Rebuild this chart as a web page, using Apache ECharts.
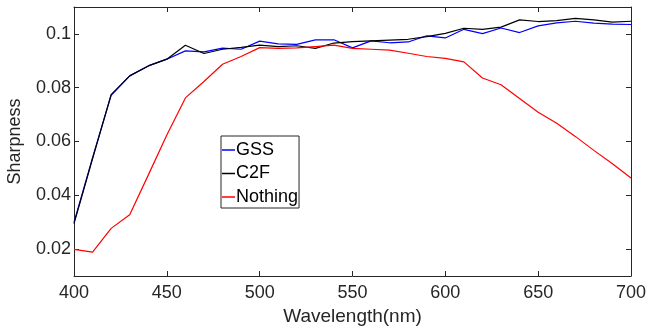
<!DOCTYPE html>
<html><head><meta charset="utf-8">
<script src="https://cdn.jsdelivr.net/npm/echarts@6/dist/echarts.min.js"></script>
<style>html,body{margin:0;padding:0;background:#fff}#c{width:648px;height:331px}</style>
</head><body><div id="c"></div>
<script>
const wavelengths = [400,410,420,430,440,450,460,470,480,490,500,510,520,530,540,550,560,570,580,590,600,610,620,630,640,650,660,670,680,690,700];
const gss = [0.0299,0.0540,0.0772,0.0844,0.0881,0.0906,0.0937,0.0933,0.0947,0.0943,0.0973,0.0963,0.0961,0.0978,0.0978,0.0948,0.0974,0.0967,0.0970,0.0993,0.0985,0.1017,0.1001,0.1022,0.1005,0.1030,0.1041,0.1047,0.1040,0.1036,0.1035];
const c2f = [0.0295,0.0536,0.0774,0.0844,0.0881,0.0906,0.0958,0.0927,0.0943,0.0950,0.0958,0.0953,0.0956,0.0946,0.0966,0.0971,0.0974,0.0977,0.0980,0.0990,0.1002,0.1021,0.1017,0.1025,0.1052,0.1046,0.1049,0.1058,0.1052,0.1044,0.1047];
const nothing = [0.0199,0.0189,0.0277,0.0328,0.0475,0.0624,0.0762,0.0823,0.0887,0.0916,0.0949,0.0946,0.0948,0.0953,0.0958,0.0946,0.0943,0.0940,0.0928,0.0916,0.0909,0.0896,0.0836,0.0811,0.0760,0.0709,0.0668,0.0619,0.0567,0.0517,0.0464];
const yTicks = [0.02,0.04,0.06,0.08,0.1];
const seriesNames = ['GSS','C2F','Nothing'];

const pairs = arr => wavelengths.map((w,i)=>[w,arr[i]]);
const axisColor = '#262626';
const font = 'Liberation Sans, Arial, sans-serif';
const chart = echarts.init(document.getElementById('c'));
const yFmt = v => String(+(+v).toFixed(2));
chart.setOption({
  animation:false,
  backgroundColor:'#fff',
  grid:{left:74,right:17,top:7,bottom:55,outerBoundsMode:'none',containLabel:false},
  legend:{
    orient:'vertical', left:221, top:136,
    data:seriesNames.map(n=>({name:n,icon:'rect'})),
    itemWidth:13, itemHeight:1.5, itemGap:5.5,
    padding:[5,1,2,1],
    borderColor:'#262626', borderWidth:1, backgroundColor:'#fff',
    textStyle:{fontFamily:font,fontSize:18,color:'#000',padding:[0,0,0,-4]}
  },
  xAxis:[
    {type:'value',min:400,max:700,interval:50,position:'bottom',
     name:'Wavelength(nm)',nameLocation:'middle',nameGap:28,
     nameTextStyle:{fontFamily:font,fontSize:19,color:axisColor},
     axisLine:{lineStyle:{color:axisColor,width:1}},
     axisTick:{inside:true,length:5,lineStyle:{color:axisColor}},
     axisLabel:{fontFamily:font,fontSize:18,color:axisColor,margin:8},
     splitLine:{show:false}},
    {type:'value',min:400,max:700,interval:50,position:'top',
     axisLine:{show:true,lineStyle:{color:axisColor,width:1}},
     axisTick:{inside:true,length:5,lineStyle:{color:axisColor}},
     axisLabel:{show:false},splitLine:{show:false}}
  ],
  yAxis:[
    {type:'value',min:0.01,max:0.11,position:'left',
     name:'Sharpness',nameLocation:'middle',nameGap:50,nameRotate:90,
     nameTextStyle:{fontFamily:font,fontSize:18,color:axisColor},
     axisLine:{show:true,lineStyle:{color:axisColor,width:1}},
     axisTick:{show:true,inside:true,length:5,customValues:yTicks,lineStyle:{color:axisColor}},
     axisLabel:{fontFamily:font,fontSize:18,color:axisColor,margin:3,customValues:yTicks,formatter:yFmt},
     splitLine:{show:false}},
    {type:'value',min:0.01,max:0.11,position:'right',
     axisLine:{show:true,lineStyle:{color:axisColor,width:1}},
     axisTick:{show:true,inside:true,length:5,customValues:yTicks,lineStyle:{color:axisColor}},
     axisLabel:{show:false},splitLine:{show:false}}
  ],
  series:[
    {name:'GSS',type:'line',data:pairs(gss),symbol:'none',color:'#0000ff',lineStyle:{width:1.2,color:'#0000ff'}},
    {name:'C2F',type:'line',data:pairs(c2f),symbol:'none',color:'#000000',lineStyle:{width:1.2,color:'#000000'}},
    {name:'Nothing',type:'line',data:pairs(nothing),symbol:'none',color:'#ff0000',lineStyle:{width:1.2,color:'#ff0000'}}
  ]
});
</script></body></html>
